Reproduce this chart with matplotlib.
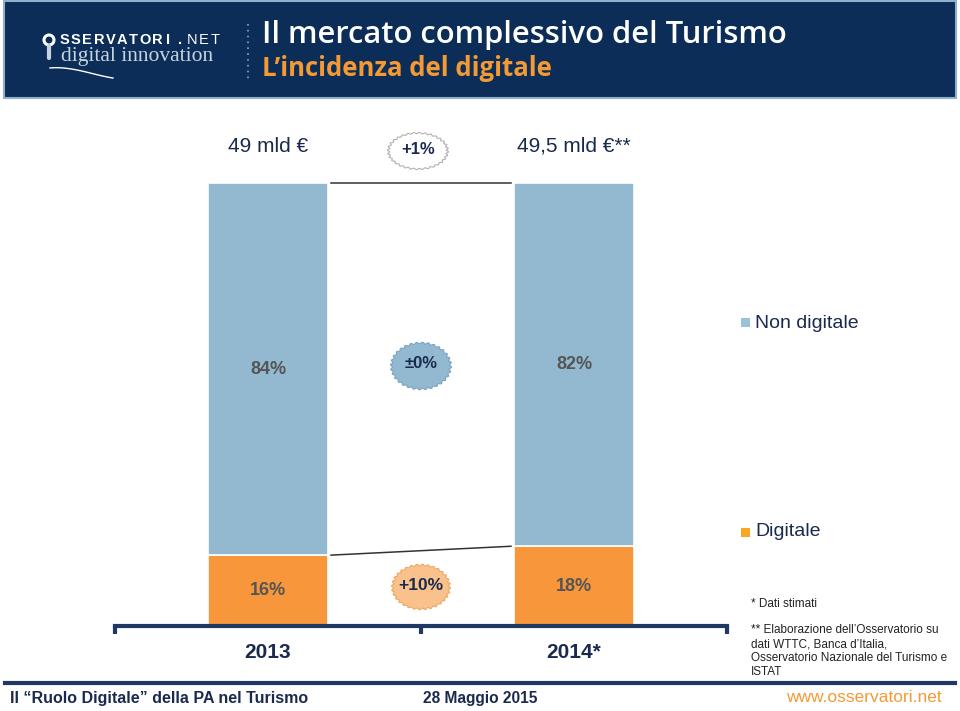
import numpy as np
import matplotlib
matplotlib.use("Agg")
import matplotlib.pyplot as plt
from matplotlib.patches import Rectangle, Polygon

# --- data ---
YEARS = ["2013", "2014*"]
DIGITALE = [16, 18]
NON_DIGITALE = [84, 82]
TOTAL_LABELS = ["49 mld €", "49,5 mld €**"]
CHANGE_TOTAL = "+1%"
CHANGE_NON_DIG = "±0%"
CHANGE_DIG = "+10%"
SERIES = ["Non digitale", "Digitale"]
FOOTNOTES = [
    "* Dati stimati",
    "** Elaborazione dell\u2019Osservatorio su\ndati WTTC, Banca d\u2019Italia,\nOsservatorio Nazionale del Turismo e\nISTAT",
]

NAVY = "#0c2d57"
AXIS_NAVY = "#1f3864"
TEXT_NAVY = "#1a2a4f"
BLUE = "#93b9d1"
ORANGE = "#f7963a"
LABEL_GREY = "#555555"

plt.rcParams["font.family"] = ["Liberation Sans", "DejaVu Sans"]


def wavy_badge(ax, cx, cy, w, h, face, edge, text, fs=12):
    t = np.linspace(0, 2 * np.pi, 400)
    r = 1 + 0.035 * np.sin(32 * t)
    xs = cx + w / 2 * r * np.cos(t)
    ys = cy + h / 2 * r * np.sin(t)
    ax.add_patch(Polygon(np.column_stack([xs, ys]), closed=True, facecolor=face,
                         edgecolor=edge, linewidth=0.8, zorder=4))
    ax.text(cx, cy - 2, text, ha="center", va="center", fontsize=fs,
            fontweight="bold", color=TEXT_NAVY, zorder=5)


fig = plt.figure(figsize=(9.6, 7.11), dpi=100)

# main bar axes (pixel box x 115..727, y 183..626)
ax = fig.add_axes([115 / 960, 85 / 711, 612 / 960, 443 / 711])
x = np.arange(len(YEARS))
width = 0.392
dig = np.array(DIGITALE) / 100.0
non = np.array(NON_DIGITALE) / 100.0

b_dig = ax.bar(x, dig, width=width, color=ORANGE, edgecolor="white", linewidth=1.2)
b_non = ax.bar(x, non, width=width, bottom=dig, color=BLUE, edgecolor="white", linewidth=1.2)

ax.bar_label(b_dig, labels=[f"{v}%" for v in DIGITALE], label_type="center",
             fontsize=13, fontweight="bold", color=LABEL_GREY)
ax.bar_label(b_non, labels=[f"{v}%" for v in NON_DIGITALE], label_type="center",
             fontsize=13, fontweight="bold", color=LABEL_GREY)

# connector lines between bars
x0 = x[0] + width / 2 + 0.01
x1 = x[1] - width / 2 - 0.01
ax.plot([x0, x1], [dig[0] + non[0], dig[1] + non[1]], color="#333333", lw=1.1, clip_on=False)
ax.plot([x0, x1], [dig[0], dig[1]], color="#333333", lw=1.1, clip_on=False)

for xi, lab in zip(x, TOTAL_LABELS):
    ax.annotate(lab, (xi, 1.0), xytext=(0, 37), textcoords="offset pixels",
                ha="center", va="center", fontsize=15, color=TEXT_NAVY,
                annotation_clip=False)

ax.set_xlim(-0.5, 1.5)
ax.set_ylim(0, 1.0)
for s in ["left", "right", "top"]:
    ax.spines[s].set_visible(False)
ax.spines["bottom"].set_color(AXIS_NAVY)
ax.spines["bottom"].set_linewidth(3)
ax.set_yticks([])
ax.set_xticks([-0.5, 0.5, 1.5])
ax.set_xticklabels([])
ax.tick_params(axis="x", which="major", length=6, width=3, color=AXIS_NAVY)
ax.set_xticks(x, minor=True)
ax.set_xticklabels(YEARS, minor=True, fontsize=15, fontweight="bold", color=TEXT_NAVY)
ax.tick_params(axis="x", which="minor", length=0, pad=12)

# overlay in pixel coordinates for slide decorations
ov = fig.add_axes([0, 0, 1, 1], zorder=3)
ov.set_xlim(0, 960)
ov.set_ylim(711, 0)
ov.axis("off")
ov.patch.set_alpha(0)

# header band
ov.add_patch(Rectangle((4, 1), 952, 97, facecolor=NAVY, edgecolor="#8fb0cc", linewidth=1.5))
ov.text(262, 35, "Il mercato complessivo del Turismo", ha="left", va="center",
        fontsize=22.3, color="white", family=["Open Sans", "DejaVu Sans"], fontweight="semibold")
ov.text(262, 69, "L\u2019incidenza del digitale", ha="left", va="center",
        fontsize=18.5, color="#f49a35", family=["Open Sans", "DejaVu Sans"], fontweight="bold")
# logo
ov.add_patch(plt.Circle((49, 40), 5, facecolor="none", edgecolor="white", lw=2.2))
ov.plot([49, 49], [46, 58], color="#c8d3e0", lw=3, solid_capstyle="round")
logo_chars = "SSERVATORI.NET"
for i, ch in enumerate(logo_chars):
    ov.text(64 + i * 11.6, 40, ch, ha="center", va="center", fontsize=10.5,
            fontweight="bold" if i < 11 else "normal", color="white")
ov.text(61, 56, "digital innovation", ha="left", va="center", fontsize=15.5,
        family=["Liberation Serif", "DejaVu Serif"], color="#c8d3e0")
sx = np.linspace(50, 113, 50)
ov.plot(sx, 68 + 10 * np.sin((sx - 50) / 63 * np.pi / 2) ** 1.5 - 3 * np.sin((sx - 50) / 63 * np.pi),
        color="white", lw=1)
ov.plot([248, 248], [24, 80], color="#8fa3bf", lw=1.2, ls=(0, (1, 2.5)))

# change badges
wavy_badge(ov, 418, 151, 59, 36, "white", "#b0b0b0", CHANGE_TOTAL)
wavy_badge(ov, 421, 366, 59, 46, BLUE, "#7aa3c2", CHANGE_NON_DIG)
wavy_badge(ov, 421, 587, 57, 44, "#f9c28c", "#f0a860", CHANGE_DIG, fs=12.5)

# legend
ov.add_patch(Rectangle((741, 318), 9, 9, facecolor="#9cc3d5", edgecolor="none"))
ov.text(755, 323, SERIES[0], ha="left", va="center", fontsize=14, color=TEXT_NAVY)
ov.add_patch(Rectangle((741, 528), 9, 9, facecolor="#f9a525", edgecolor="none"))
ov.text(755, 532, SERIES[1], ha="left", va="center", fontsize=14, color=TEXT_NAVY)

# footnotes
ov.text(751, 604, FOOTNOTES[0], ha="left", va="center", fontsize=8.5, color="#222222")
ov.text(751, 624, FOOTNOTES[1], ha="left", va="top", fontsize=8.5, color="#222222",
        linespacing=1.24)

# footer
ov.plot([5, 955], [683, 683], color=AXIS_NAVY, lw=3)
ov.text(10, 698, "Il \u201cRuolo Digitale\u201d della PA nel Turismo", ha="left", va="center",
        fontsize=11.5, fontweight="bold", color=TEXT_NAVY)
ov.text(423, 698, "28 Maggio 2015", ha="left", va="center", fontsize=11.2,
        fontweight="bold", color=TEXT_NAVY)
ov.text(942, 698, "www.osservatori.net", ha="right", va="center", fontsize=12.5,
        color="#f49a35")

fig.savefig("out.png", dpi=100)
